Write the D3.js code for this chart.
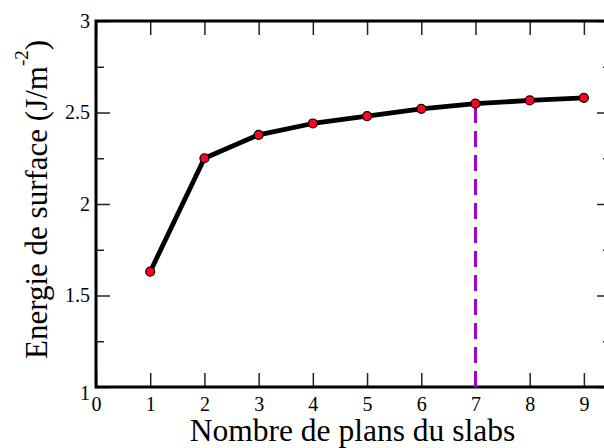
<!DOCTYPE html>
<html lang="fr">
<head>
<meta charset="UTF-8">
<title>Energie de surface</title>
<script src="https://d3js.org/d3.v7.min.js"></script>
<style>
  body { margin: 0; background: #fff; }
  svg { display: block; }
  text { font-family: "Liberation Serif", "Times New Roman", serif; fill: #000; }
</style>
</head>
<body>
<svg id="plot" width="604" height="448"></svg>
<script>
    // data
    const planes = [1, 2, 3, 4, 5, 6, 7, 8, 9];
    const energy = [1.63, 2.25, 2.378, 2.44, 2.48, 2.52, 2.548, 2.566, 2.58];
    const markPlane = 7;

    const xTickValues = [0, 1, 2, 3, 4, 5, 6, 7, 8, 9];
    const yTickValues = [1, 1.5, 2, 2.5, 3];
    const yMinorValues = [1.25, 1.75, 2.25, 2.75];

    const plotLeft = 96, plotRight = 611, plotTop = 21, plotBottom = 387;

    const svg = d3.select("#plot");

    const x = d3.scaleLinear().domain([0, 9.5]).range([plotLeft, plotRight]);
    const y = d3.scaleLinear().domain([1, 3]).range([plotBottom, plotTop]);

    // axes, ticks pointing inward
    const gx = svg.append("g")
        .attr("transform", "translate(0," + plotBottom + ")")
        .call(d3.axisBottom(x).tickValues(xTickValues).tickSize(-14).tickPadding(9).tickFormat(d => d));
    svg.append("g")
        .attr("transform", "translate(0," + plotTop + ")")
        .call(d3.axisTop(x).tickValues(xTickValues).tickSize(-14).tickFormat(""));

    const gy = svg.append("g")
        .attr("transform", "translate(" + plotLeft + ",0)")
        .call(d3.axisLeft(y).tickValues(yTickValues).tickSize(-14).tickPadding(6).tickFormat(d => d));
    svg.append("g")
        .attr("transform", "translate(" + plotLeft + ",0)")
        .call(d3.axisLeft(y).tickValues(yMinorValues).tickSize(-8).tickFormat(""));
    svg.append("g")
        .attr("transform", "translate(" + plotRight + ",0)")
        .call(d3.axisRight(y).tickValues(yTickValues).tickSize(-14).tickFormat(""));
    svg.append("g")
        .attr("transform", "translate(" + plotRight + ",0)")
        .call(d3.axisRight(y).tickValues(yMinorValues).tickSize(-8).tickFormat(""));

    svg.selectAll(".domain").remove();
    svg.selectAll(".tick line").attr("stroke", "#222").attr("stroke-width", 1.5);
    gx.selectAll("text").style("font-size", "20px").attr("dy", "0.75em");
    gy.selectAll("text").style("font-size", "20px");
    svg.selectAll(".tick text").style("font-family", "'Liberation Serif', 'Times New Roman', serif").attr("fill", "#000");
    // lowest y label sits a little lower, as in the picture
    gy.selectAll(".tick").filter(d => d === 1).select("text").attr("dy", "0.6em");

    // frame
    svg.append("rect")
        .attr("x", plotLeft).attr("y", plotTop)
        .attr("width", plotRight - plotLeft).attr("height", plotBottom - plotTop)
        .attr("fill", "none").attr("stroke", "#000").attr("stroke-width", 3);

    // dashed purple marker
    svg.append("line")
        .attr("x1", x(markPlane)).attr("x2", x(markPlane))
        .attr("y1", y(1)).attr("y2", y(energy[planes.indexOf(markPlane)]))
        .attr("stroke", "#a000d8").attr("stroke-width", 3)
        .attr("stroke-dasharray", "16,8");

    const pts = planes.map((p, i) => [p, energy[i]]);

    svg.append("path")
        .datum(pts)
        .attr("fill", "none")
        .attr("stroke", "#000")
        .attr("stroke-width", 4.8)
        .attr("stroke-linejoin", "round")
        .attr("d", d3.line().x(d => x(d[0])).y(d => y(d[1])));

    svg.selectAll("circle.pt")
        .data(pts)
        .join("circle")
        .attr("class", "pt")
        .attr("cx", d => x(d[0]))
        .attr("cy", d => y(d[1]))
        .attr("r", 4.5)
        .attr("fill", "#ff0022")
        .attr("stroke", "#000")
        .attr("stroke-width", 1.2);

    // axis titles
    svg.append("text")
        .attr("x", (plotLeft + plotRight) / 2 - 1)
        .attr("y", 441)
        .attr("text-anchor", "middle")
        .style("font-size", "31.5px")
        .text("Nombre de plans du slabs");

    const yl = svg.append("text")
        .attr("transform", "translate(47,359) rotate(-90)")
        .attr("text-anchor", "start")
        .style("font-size", "31px");
    yl.append("tspan").text("Energie de surface (J/m");
    yl.append("tspan").attr("dy", -19).style("font-size", "19px").text("-2");
    yl.append("tspan").attr("dy", 19).text(")");
</script>
</body>
</html>
